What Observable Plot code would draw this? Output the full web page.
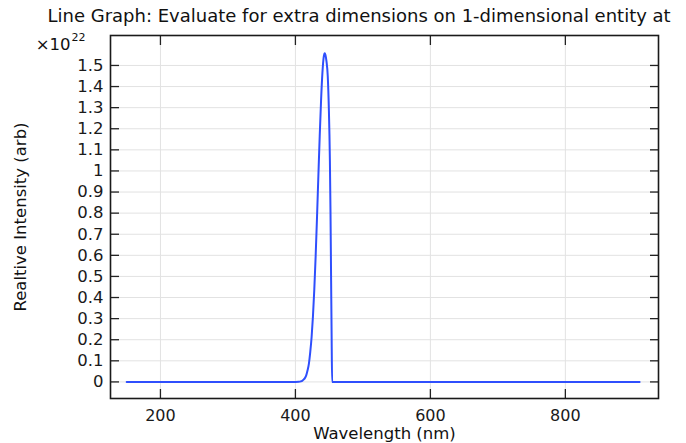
<!DOCTYPE html>
<html>
<head>
<meta charset="utf-8">
<script src="https://cdn.jsdelivr.net/npm/d3@7"></script>
<script src="https://cdn.jsdelivr.net/npm/@observablehq/plot@0.6"></script>
<style>
  html, body { margin: 0; padding: 0; background: #fff; overflow: hidden; }
  #chart { width: 686px; height: 443px; overflow: hidden; }
  svg { font-family: "DejaVu Sans", sans-serif; }
</style>
</head>
<body>
<div id="chart"></div>
<script>
// ---- data (intensity in units of 1e22) ----
const wavelength = [150, 300, 395, 400, 405, 408, 410, 412, 414, 416, 418, 420, 422, 424, 426, 428, 430, 432, 434, 436, 438, 440, 442, 443.4, 444.5, 446, 447.9, 449.5, 451.1, 452, 452.9, 453.7, 454.4, 455, 600, 910];
const intensity  = [0, 0, 0, 0.0001, 0.0008, 0.0025, 0.005, 0.011, 0.018, 0.031, 0.055, 0.087, 0.142, 0.213, 0.312, 0.44, 0.597, 0.78, 0.975, 1.165, 1.334, 1.465, 1.542, 1.558, 1.55, 1.52, 1.45, 1.30, 1.047, 0.80, 0.48, 0.2, 0, 0, 0, 0];
const xTicks = [200, 400, 600, 800];
const yTicks = [0, 0.1, 0.2, 0.3, 0.4, 0.5, 0.6, 0.7, 0.8, 0.9, 1, 1.1, 1.2, 1.3, 1.4, 1.5];
const titleText = "Line Graph: Evaluate for extra dimensions on 1-dimensional entity at";
const xLabel = "Wavelength (nm)";
const yLabel = "Realtive Intensity (arb)";
const exponentBase = "×10";
const exponent = "22";

const data = wavelength.map((w, i) => ({w, v: intensity[i]}));
const fmt = d => String(+d.toFixed(1));

const chart = Plot.plot({
  width: 686,
  height: 443,
  marginLeft: 110,
  marginRight: 28,
  marginTop: 35,
  marginBottom: 45,
  style: {fontFamily: "DejaVu Sans, sans-serif", fontSize: "15px", color: "#1a1a1a", background: "#fff", overflow: "visible"},
  x: {domain: [126, 938]},
  y: {domain: [-0.0786, 1.642]},
  marks: [
    Plot.gridX(xTicks, {stroke: "#e2e2e2", strokeOpacity: 1, strokeWidth: 1}),
    Plot.gridY(yTicks, {stroke: "#e2e2e2", strokeOpacity: 1, strokeWidth: 1}),
    Plot.axisY(yTicks, {anchor: "left", tickSize: -9, tickPadding: 16, tickFormat: fmt, label: null, fontSize: 16.5, stroke: "#222", strokeWidth: 1.3}),
    Plot.axisY(yTicks, {anchor: "right", tickSize: -9, tickFormat: () => "", label: null, stroke: "#222", strokeWidth: 1.3}),
    Plot.axisX(xTicks, {anchor: "bottom", tickSize: -9, tickPadding: 20, tickFormat: d => String(d), label: null, fontSize: 16, stroke: "#222", strokeWidth: 1.3}),
    Plot.axisX(xTicks, {anchor: "top", tickSize: -9, tickFormat: () => "", label: null, stroke: "#222", strokeWidth: 1.3}),
    Plot.line(data, {x: "w", y: "v", stroke: "#2f4ffd", strokeWidth: 2, curve: "monotone-x"}),
    Plot.frame({stroke: "#1a1a1a", strokeWidth: 1.6}),
    Plot.text([titleText], {frameAnchor: "top-left", text: d => d, textAnchor: "start", lineAnchor: "middle", dx: -63, dy: -19, fontSize: 18, fill: "#111"}),
    Plot.text([xLabel], {frameAnchor: "bottom", text: d => d, textAnchor: "middle", lineAnchor: "middle", dy: 35.5, fontSize: 16.5, fill: "#111"}),
    Plot.text([yLabel], {frameAnchor: "left", text: d => d, textAnchor: "middle", rotate: -90, lineAnchor: "middle", dx: -90, dy: 0, fontSize: 16.5, fill: "#111"}),
    Plot.text([exponentBase], {frameAnchor: "top-left", text: d => d, textAnchor: "end", lineAnchor: "middle", dx: -40, dy: 9, fontSize: 16.5, fill: "#111"}),
    Plot.text([exponent], {frameAnchor: "top-left", text: d => d, textAnchor: "start", lineAnchor: "middle", dx: -39, dy: 2, fontSize: 11, fill: "#111"})
  ]
});
document.getElementById("chart").appendChild(chart);
</script>
</body>
</html>
